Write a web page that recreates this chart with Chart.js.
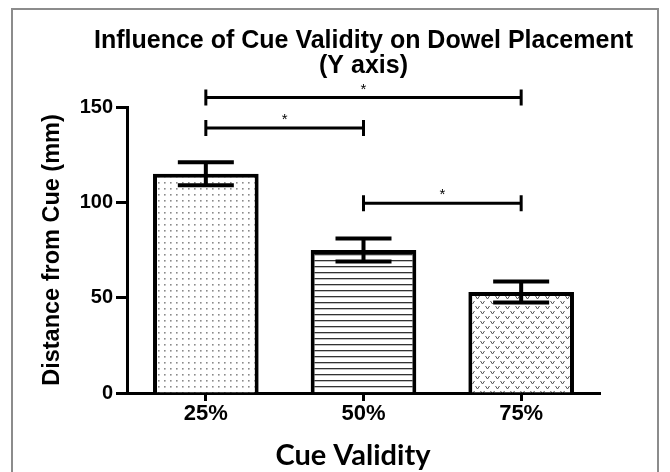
<!DOCTYPE html>
<html>
<head>
<meta charset="utf-8">
<script src="https://cdn.jsdelivr.net/npm/chart.js@4.4.0/dist/chart.umd.min.js"></script>
<style>
	html, body { margin: 0; padding: 0; background: #fff; overflow: hidden; }
	#frame { position: absolute; left: 11px; top: 8px; width: 644px; height: 520px; border: 2px solid #8c8c8c; }
	#wrap { position: absolute; left: 0; top: 0; width: 670px; height: 472px; }
</style>
</head>
<body>
<div id="frame"></div>
<div id="wrap"><canvas id="chart" width="670" height="472"></canvas></div>
<script>
// data
const categories = ['25%', '50%', '75%']
const means = [115, 75, 53]
const errors = [6, 6, 5.5]
const yTicks = [0, 50, 100, 150]

// significance brackets (category index from / to, height in mm)
const pairFrom = [0, 0, 1]
const pairTo = [2, 1, 2]
const pairLevel = [155, 139, 99.5]
const pairMark = ['*', '*', '*']

const titleLines = ['Influence of Cue Validity on Dowel Placement', '(Y axis)']
const xTitle = 'Cue Validity'

const FONT = "'Liberation Sans', Arial, sans-serif"

// fill patterns for the three bars
const makeTile = (w, h, draw) => {
	const c = document.createElement('canvas')
	c.width = w
	c.height = h
	const ctx = c.getContext('2d')
	ctx.fillStyle = '#fff'
	ctx.fillRect(0, 0, w, h)
	draw(ctx)
	return document.createElement('canvas').getContext('2d').createPattern(c, 'repeat')
}

const dots = makeTile(6, 6, ctx => {
	ctx.fillStyle = '#8a8a8a'
	ctx.fillRect(2, 2, 1.6, 1.6)
})

const stripes = makeTile(6, 6, ctx => {
	ctx.fillStyle = '#333'
	ctx.fillRect(0, 2, 6, 1.3)
})

const chevrons = makeTile(10, 10, ctx => {
	ctx.strokeStyle = '#555'
	ctx.lineWidth = 1
	ctx.beginPath()
	ctx.moveTo(0.5, 1); ctx.lineTo(2.5, 4); ctx.lineTo(4.5, 1)
	ctx.moveTo(5.5, 6); ctx.lineTo(7.5, 9); ctx.lineTo(9.5, 6)
	ctx.stroke()
})

// error bars, brackets and the titles drawn on top
// (the title is wider than the plot area, so Chart.js' own title would squeeze it)
const extras = {
	id: 'extras',
	afterDatasetsDraw(chart) {
		const ctx = chart.ctx
		const y = chart.scales.y
		const area = chart.chartArea
		const bars = chart.getDatasetMeta(0).data

		ctx.save()
		ctx.strokeStyle = '#000'
		ctx.lineWidth = 4
		ctx.lineCap = 'butt'
		bars.forEach((bar, i) => {
			const top = y.getPixelForValue(means[i] + errors[i])
			const bottom = y.getPixelForValue(means[i] - errors[i])
			ctx.beginPath()
			ctx.moveTo(bar.x, top); ctx.lineTo(bar.x, bottom)
			ctx.moveTo(bar.x - 28, top); ctx.lineTo(bar.x + 28, top)
			ctx.moveTo(bar.x - 28, bottom); ctx.lineTo(bar.x + 28, bottom)
			ctx.stroke()
		})

		ctx.lineWidth = 3
		ctx.fillStyle = '#000'
		ctx.font = `15px ${FONT}`
		ctx.textAlign = 'center'
		ctx.textBaseline = 'middle'
		pairFrom.forEach((from, i) => {
			const x1 = bars[from].x
			const x2 = bars[pairTo[i]].x
			const py = y.getPixelForValue(pairLevel[i])
			ctx.beginPath()
			ctx.moveTo(x1, py); ctx.lineTo(x2, py)
			ctx.moveTo(x1, py - 8); ctx.lineTo(x1, py + 8)
			ctx.moveTo(x2, py - 8); ctx.lineTo(x2, py + 8)
			ctx.stroke()
			ctx.fillText(pairMark[i], (x1 + x2) / 2, py - 8)
		})

		const mid = (area.left + area.right) / 2
		ctx.font = `bold 25px ${FONT}`
		titleLines.forEach((line, i) => {
			ctx.fillText(line, mid, 41 + i * 25)
		})

		// axis title sits a little left of the axis centre in the original
		ctx.font = 'bold 29px Lato, sans-serif'
		ctx.fillText(xTitle, area.left + 226, 456)
		ctx.restore()
	}
}

new Chart(document.getElementById('chart'), {
	type: 'bar',
	data: {
		labels: categories,
		datasets: [{
			data: means,
			backgroundColor: [dots, stripes, chevrons],
			borderColor: '#000',
			borderWidth: 4,
			categoryPercentage: 1,
			barPercentage: 0.67
		}]
	},
	options: {
		responsive: false,
		animation: false,
		devicePixelRatio: 1,
		layout: { padding: { left: 0, right: 70, top: 107, bottom: 0 } },
		plugins: {
			legend: { display: false },
			tooltip: { enabled: false },
			title: { display: false }
		},
		scales: {
			x: {
				afterFit: s => { s.height = 79 },
				border: { display: true, color: '#000', width: 3 },
				grid: { display: true, offset: false, drawOnChartArea: false, drawTicks: true, tickLength: 8, tickWidth: 3, tickColor: '#000' },
				ticks: { color: '#000', padding: 0, font: { family: FONT, size: 22, weight: 'bold' } }
			},
			y: {
				min: 0,
				max: 150,
				afterFit: s => { s.width = 127 },
				afterBuildTicks: s => { s.ticks = yTicks.map(v => ({ value: v })) },
				border: { display: true, color: '#000', width: 3 },
				grid: { display: true, drawOnChartArea: false, drawTicks: true, tickLength: 11, tickWidth: 3, tickColor: '#000' },
				ticks: { color: '#000', padding: 3, font: { family: FONT, size: 20, weight: 'bold' } },
				title: {
					display: true,
					text: 'Distance from Cue (mm)',
					color: '#000',
					font: { family: FONT, size: 23.5, weight: 'bold', lineHeight: 1.2 },
					padding: { top: 38, bottom: 0 }
				}
			}
		}
	},
	plugins: [extras]
})
</script>
</body>
</html>
